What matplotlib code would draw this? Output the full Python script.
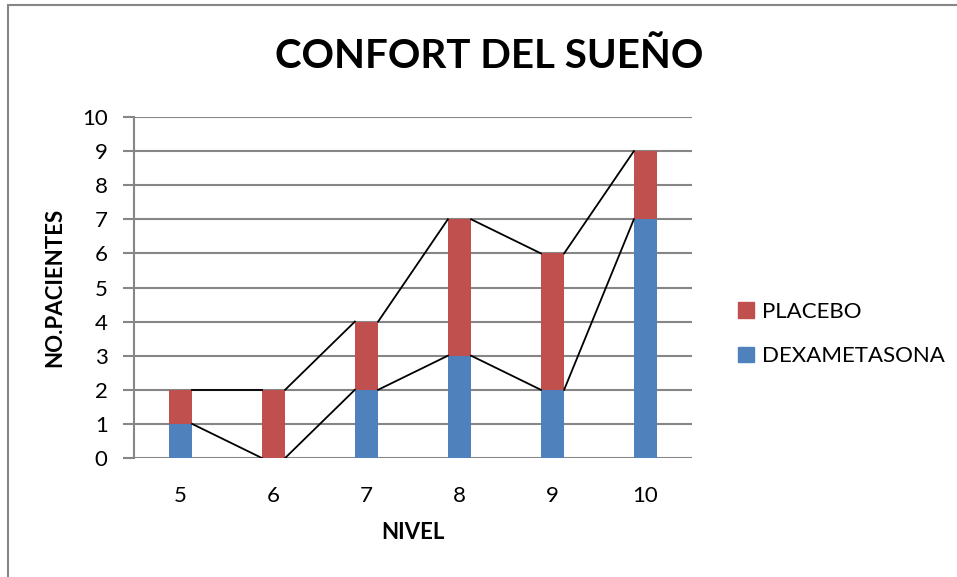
import matplotlib
matplotlib.use('Agg')
import matplotlib.pyplot as plt
from matplotlib.patches import Rectangle, Patch
import numpy as np

niveles = ['5', '6', '7', '8', '9', '10']
dexametasona = [1, 0, 2, 3, 2, 7]
placebo = [1, 2, 2, 4, 4, 2]
yticks = [0, 1, 2, 3, 4, 5, 6, 7, 8, 9, 10]

blue = '#4F81BD'
red = '#C0504D'
grid = '#868686'

plt.rcParams['font.family'] = ['Lato', 'DejaVu Sans']

fig = plt.figure(figsize=(9.57, 5.77), dpi=100)
ax = fig.add_axes([134/957, 1-458/577, (692-134)/957, (458-117)/577])

x = np.arange(len(niveles))
w = 0.25
ax.bar(x, dexametasona, w, color=blue, zorder=3)
ax.bar(x, placebo, w, bottom=dexametasona, color=red, zorder=3)

# series lines between bars
total = [d + p for d, p in zip(dexametasona, placebo)]
for tops in (dexametasona, total):
    for i in range(len(x) - 1):
        ax.plot([x[i] + w/2, x[i+1] - w/2], [tops[i], tops[i+1]],
                color='black', lw=1.3, zorder=4)

ax.set_xlim(-0.5, len(x) - 0.5)
ax.set_ylim(0, 10)
ax.set_yticks(yticks)
ax.set_xticks(x)
ax.set_xticklabels(niveles)
ax.yaxis.grid(True, color=grid, lw=1.5, zorder=0)
ax.set_axisbelow(True)
for s in ['top', 'right', 'bottom']:
    ax.spines[s].set_visible(False)
ax.spines['left'].set_color(grid)
ax.spines['left'].set_linewidth(1.5)
ax.tick_params(axis='y', colors=grid, length=8, width=1.5, labelcolor='black',
               labelsize=16, pad=11)
ax.tick_params(axis='x', length=0, labelsize=16, pad=20)

ax.set_xlabel('NIVEL', fontsize=16, fontweight='bold', labelpad=12)
ax.set_ylabel('NO.PACIENTES', fontsize=16, fontweight='bold', labelpad=12)

fig.text(489/957, 1-57/577, 'CONFORT DEL SUEÑO', fontsize=29, fontweight='bold',
         ha='center', va='center')

handles = [Patch(color=red), Patch(color=blue)]
fig.legend(handles, ['PLACEBO', 'DEXAMETASONA'], loc='center left',
           bbox_to_anchor=(718/957, 1-334/577), frameon=False, fontsize=16,
           handlelength=0.7, handleheight=0.7, handletextpad=0.4,
           labelspacing=1.1)

# outer chart border
fig.patches.append(Rectangle((8/957, -0.1), 2, 1.1 - 5/577,
                             transform=fig.transFigure, fill=False,
                             edgecolor=grid, lw=1.5))

fig.savefig('out.png', dpi=100)
